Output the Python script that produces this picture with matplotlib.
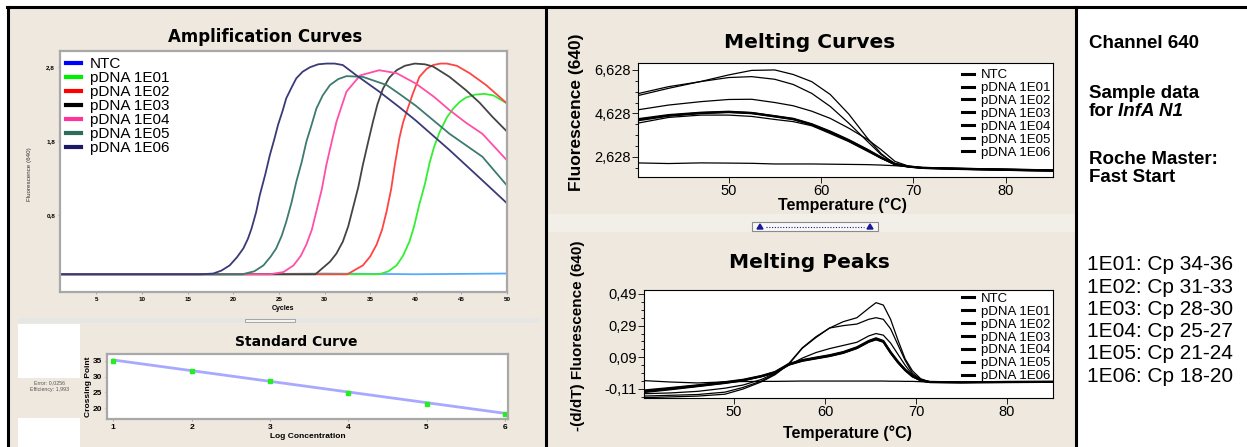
import matplotlib
matplotlib.use("Agg")
import matplotlib.pyplot as plt
from matplotlib.patches import Rectangle, Polygon
from matplotlib.lines import Line2D
from matplotlib.ticker import FixedLocator

plt.rcParams['font.family'] = ['Liberation Sans', 'DejaVu Sans']

W, H = 1247, 447
BEIGE = '#eee8df'

# ---------------- amplification curves (cycle, fluorescence) ----------------
amp_labels = ['NTC', 'pDNA 1E01', 'pDNA 1E02', 'pDNA 1E03', 'pDNA 1E04', 'pDNA 1E05', 'pDNA 1E06']
amp_legend_colors = ['#0000ff', '#00ee00', '#ff0000', '#000000', '#ff3399', '#2e6b5a', '#1a1a66']
amp_line_colors = ['#55aaff', '#33ee33', '#ff4444', '#444444', '#ff4fa8', '#3d7a70', '#3a3a78']

ntc_cyc = [1, 10, 20, 30, 40, 50]
ntc_flu = [0.0, 0.0, 0.0, 0.01, 0.0, 0.01]

e01_cyc = [1, 36, 37.0, 37.9, 38.6, 39.3, 39.8, 40.4, 41.0, 41.5, 42.0, 42.6, 43.4, 44.1, 44.8, 45.5, 46.5, 47.5, 48.5, 50]
e01_flu = [0, 0, 0.04, 0.12, 0.25, 0.44, 0.64, 0.95, 1.22, 1.5, 1.72, 1.92, 2.12, 2.24, 2.33, 2.39, 2.43, 2.44, 2.42, 2.31]

e02_cyc = [1, 32.5, 34.2, 35.0, 35.7, 36.3, 36.8, 37.3, 37.7, 38.2, 38.6, 39.0, 39.7, 40.4, 41.2, 41.9, 42.7, 43.4, 44.5, 45.9, 47.7, 50]
e02_flu = [0, 0, 0.12, 0.24, 0.4, 0.6, 0.85, 1.15, 1.48, 1.84, 2.05, 2.2, 2.45, 2.67, 2.78, 2.83, 2.85, 2.85, 2.82, 2.72, 2.56, 2.31]

e03_cyc = [1, 29, 30.6, 31.3, 32.0, 32.6, 33.1, 33.7, 34.2, 34.8, 35.3, 35.8, 36.4, 37.1, 37.9, 38.8, 39.9, 41.0, 41.9, 43.7, 45.5, 47, 48.4, 50]
e03_flu = [0, 0, 0.17, 0.28, 0.44, 0.65, 0.89, 1.18, 1.48, 1.8, 2.06, 2.3, 2.51, 2.66, 2.76, 2.82, 2.85, 2.84, 2.81, 2.67, 2.49, 2.32, 2.13, 1.93]

e04_cyc = [1, 24, 25.5, 26.6, 27.4, 28.0, 28.6, 29.1, 29.7, 30.2, 30.8, 31.3, 32.4, 33.9, 36.0, 37.9, 40, 42, 43.7, 45.5, 47.3, 50]
e04_flu = [0, 0, 0.03, 0.12, 0.25, 0.4, 0.6, 0.85, 1.15, 1.48, 1.8, 2.06, 2.47, 2.69, 2.76, 2.72, 2.58, 2.4, 2.22, 2.05, 1.9, 1.54]

e05_cyc = [1, 21, 22.3, 23.3, 24.1, 24.7, 25.3, 25.8, 26.4, 26.9, 27.5, 28.0, 28.6, 29.1, 29.8, 30.6, 31.5, 32.4, 34.2, 36.8, 38.2, 40, 43.7, 47.3, 50]
e05_flu = [0, 0, 0.04, 0.12, 0.24, 0.35, 0.52, 0.71, 0.98, 1.25, 1.52, 1.79, 2.03, 2.24, 2.42, 2.56, 2.64, 2.68, 2.67, 2.56, 2.44, 2.28, 1.9, 1.59, 1.2]

e06_cyc = [1, 16.5, 17.8, 18.7, 19.6, 20.4, 21.1, 21.6, 22.0, 22.5, 22.9, 23.5, 24.0, 24.5, 24.9, 25.4, 25.8,
           26.4, 26.9, 27.6, 28.4, 29.3, 30.2, 31.1, 32.0, 33.5, 36.0, 38.2, 40, 43.7, 47.3, 50]
e06_flu = [0, 0, 0.01, 0.05, 0.12, 0.23, 0.35, 0.48, 0.62, 0.84, 1.07, 1.35, 1.61, 1.83, 2.02, 2.21, 2.38,
           2.53, 2.65, 2.74, 2.8, 2.84, 2.85, 2.85, 2.83, 2.69, 2.47, 2.26, 2.08, 1.68, 1.27, 0.96]

amp_x = [ntc_cyc, e01_cyc, e02_cyc, e03_cyc, e04_cyc, e05_cyc, e06_cyc]
amp_y = [ntc_flu, e01_flu, e02_flu, e03_flu, e04_flu, e05_flu, e06_flu]
amp_yticks = [0.8, 1.8, 2.8]
amp_yticklabels = ['0,8', '1,8', '2,8']
amp_xticks = [5, 10, 15, 20, 25, 30, 35, 40, 45, 50]

# ---------------- standard curve ----------------
std_logconc = [1, 2, 3, 4, 5, 6]
std_cp = [35.0, 31.8, 28.6, 24.7, 21.5, 18.3]
std_cp_err = [0.6, 0.1, 0.1, 0.1, 0.1, 0.1]
std_fit_x = [1, 6]
std_fit_y = [35.3, 18.4]
std_info = ['Error: 0,0256', 'Efficiency: 1,993']

# ---------------- melting curves (temperature, fluorescence) ----------------
mc_temp = [40, 43.5, 47, 50, 52.5, 55, 57, 59, 61, 63, 65, 66.5, 68, 69.5, 71, 75, 80, 85]
mc_ntc = [2350, 2320, 2350, 2340, 2330, 2300, 2300, 2300, 2290, 2280, 2270, 2250, 2220, 2170, 2110, 2070, 2030, 2000]
mc_a = [5430, 5783, 6100, 6400, 6610, 6630, 6420, 6090, 5500, 4600, 3500, 2780, 2280, 2170, 2120, 2080, 2040, 2010]
mc_b = [5520, 5860, 6095, 6280, 6322, 6200, 5960, 5550, 4950, 4180, 3350, 2730, 2330, 2180, 2120, 2090, 2050, 2020]
mc_c = [4782, 5013, 5170, 5270, 5280, 5130, 4980, 4730, 4400, 3950, 3440, 2960, 2420, 2195, 2130, 2100, 2060, 2030]
mc_d = [4351, 4551, 4660, 4705, 4650, 4500, 4380, 4130, 3790, 3400, 2960, 2600, 2290, 2180, 2120, 2070, 2030, 1990]
mc_e = [4166, 4443, 4551, 4551, 4490, 4350, 4250, 4060, 3700, 3330, 2890, 2560, 2280, 2170, 2110, 2060, 2010, 1980]
mc_f = [4300, 4520, 4640, 4690, 4640, 4490, 4360, 4110, 3770, 3380, 2940, 2590, 2290, 2180, 2120, 2080, 2040, 2000]
mc_series = [mc_ntc, mc_a, mc_b, mc_c, mc_d, mc_e, mc_f]
mc_yticks = [2628, 4628, 6628]
mc_yticklabels = ['2,628', '4,628', '6,628']

# ---------------- melting peaks (temperature, -dF/dT) ----------------
mp_temp = [40, 43, 46, 49, 51, 53, 54.5, 56, 57.5, 59, 60.5, 62, 63.5, 64.8, 65.6, 66.4, 67.2, 68, 68.8, 69.6, 70.5, 71.5, 75, 80, 85]
mp_ntc = [-0.057, -0.066, -0.072, -0.065, -0.063, -0.062, -0.062, -0.061, -0.06, -0.06, -0.06, -0.06, -0.06, -0.06, -0.06, -0.06, -0.061, -0.061, -0.062, -0.062, -0.064, -0.068, -0.07, -0.065, -0.064]
mp_a = [-0.165, -0.16, -0.155, -0.143, -0.11, -0.065, -0.02, 0.045, 0.147, 0.215, 0.275, 0.315, 0.34, 0.40, 0.435, 0.42, 0.33, 0.2, 0.08, 0.005, -0.045, -0.066, -0.068, -0.066, -0.065]
mp_b = [-0.155, -0.15, -0.145, -0.13, -0.1, -0.06, -0.015, 0.05, 0.15, 0.22, 0.275, 0.29, 0.30, 0.33, 0.34, 0.33, 0.27, 0.17, 0.07, -0.01, -0.05, -0.066, -0.068, -0.066, -0.065]
mp_c = [-0.14, -0.135, -0.125, -0.105, -0.085, -0.05, -0.01, 0.04, 0.085, 0.12, 0.145, 0.165, 0.185, 0.225, 0.24, 0.23, 0.18, 0.11, 0.04, -0.02, -0.05, -0.066, -0.068, -0.066, -0.065]
mp_d = [-0.126, -0.108, -0.09, -0.07, -0.055, -0.03, -0.005, 0.045, 0.07, 0.085, 0.1, 0.12, 0.15, 0.19, 0.206, 0.19, 0.12, 0.06, 0.01, -0.03, -0.055, -0.066, -0.068, -0.066, -0.065]
mp_e = [-0.133, -0.115, -0.095, -0.075, -0.058, -0.032, -0.008, 0.04, 0.065, 0.08, 0.095, 0.115, 0.145, 0.185, 0.2, 0.185, 0.115, 0.055, 0.005, -0.033, -0.056, -0.066, -0.068, -0.066, -0.065]
mp_f = [-0.12, -0.104, -0.087, -0.067, -0.052, -0.028, -0.003, 0.047, 0.072, 0.088, 0.103, 0.123, 0.153, 0.193, 0.21, 0.193, 0.123, 0.063, 0.012, -0.028, -0.054, -0.066, -0.068, -0.066, -0.065]
mp_series = [mp_ntc, mp_a, mp_b, mp_c, mp_d, mp_e, mp_f]
mp_yticks = [-0.11, 0.09, 0.29, 0.49]
mp_yticklabels = ['-0,11', '0,09', '0,29', '0,49']

melt_labels = ['NTC', 'pDNA 1E01', 'pDNA 1E02', 'pDNA 1E03', 'pDNA 1E04', 'pDNA 1E05', 'pDNA 1E06']
melt_xticks = [50, 60, 70, 80]

# ---------------- side notes ----------------
notes_bold = ['Channel 640', 'Sample data', 'for', 'Roche Master:', 'Fast Start']
notes_cp = ['1E01: Cp 34-36', '1E02: Cp 31-33', '1E03: Cp 28-30',
            '1E04: Cp 25-27', '1E05: Cp 21-24', '1E06: Cp 18-20']

fig = plt.figure(figsize=(W / 100, H / 100), dpi=100)


def box(x0, y0, x1, y1):
    return [x0 / W, 1 - y1 / H, (x1 - x0) / W, (y1 - y0) / H]


# background / frame in pixel coordinates
bg = fig.add_axes([0, 0, 1, 1], zorder=0)
bg.set_xlim(0, W)
bg.set_ylim(H, 0)
bg.axis('off')
bg.add_patch(Rectangle((8, 7), 1068, 440, color=BEIGE, lw=0))
bg.add_patch(Rectangle((18, 318), 522, 5, color='#e6e6e6', lw=0))
bg.add_patch(Rectangle((245, 319), 50, 3, facecolor='#f4f4f4', edgecolor='#9a9a9a', lw=0.6))
bg.add_patch(Rectangle((18, 324), 62, 54, color='white', lw=0))
bg.add_patch(Rectangle((18, 418), 62, 29, color='white', lw=0))
bg.add_patch(Rectangle((548, 214), 527, 18, color='#f2eee8', lw=0))
bg.add_patch(Rectangle((752, 222), 126, 9, facecolor='#f8f8f8', edgecolor='#8a8a8a', lw=0.8))
bg.add_patch(Polygon([[757, 229], [760, 224], [763, 229]], color='#1a1a99'))
bg.add_patch(Polygon([[867, 229], [870, 224], [873, 229]], color='#1a1a99'))
bg.plot([766, 864], [227, 227], color='#1a1a99', lw=0.8, ls=(0, (1, 1.5)))
bg.plot([7, 1247], [7, 7], color='black', lw=2.2)
bg.plot([8, 8], [7, 447], color='black', lw=2.2)
bg.plot([546, 546], [7, 447], color='black', lw=2.2)
bg.plot([1076, 1076], [7, 447], color='black', lw=2.2)

# titles and axis labels
bg.text(265, 37, 'Amplification Curves', ha='center', va='center', fontsize=12,
        fontweight='bold', family='DejaVu Sans')
bg.text(296, 342, 'Standard Curve', ha='center', va='center', fontsize=10,
        fontweight='bold', family='DejaVu Sans')
bg.text(810, 42, 'Melting Curves', ha='center', va='center', fontsize=14.5,
        fontweight='bold', family='DejaVu Sans')
bg.text(809, 263, 'Melting Peaks', ha='center', va='center', fontsize=14.5,
        fontweight='bold', family='DejaVu Sans')
bg.text(29, 174, 'Fluorescence (640)', rotation=90, ha='center', va='center', fontsize=4.5, color='#333333')
bg.text(283, 308, 'Cycles', ha='center', va='center', fontsize=5, fontweight='bold')
bg.text(89, 387, 'Crossing Point', rotation=90, ha='center', va='center', fontsize=6, fontweight='bold')
bg.text(308, 437, 'Log Concentration', ha='center', va='center', fontsize=6, fontweight='bold')
bg.text(50, 383, std_info[0], ha='center', va='center', fontsize=3.8, color='#555555')
bg.text(50, 389, std_info[1], ha='center', va='center', fontsize=3.8, color='#555555')
bg.text(577, 112, 'Fluorescence (640)', rotation=90, ha='center', va='center', fontsize=12.5, fontweight='bold')
bg.text(578, 336, '-(d/dT) Fluorescence (640)', rotation=90, ha='center', va='center', fontsize=11, fontweight='bold')
bg.text(842, 205, 'Temperature (°C)', ha='center', va='center', fontsize=11.5, fontweight='bold')
bg.text(847, 433, 'Temperature (°C)', ha='center', va='center', fontsize=11.5, fontweight='bold')

# side notes
nx = 1089
bg.text(nx, 43, notes_bold[0], ha='left', va='center', fontsize=13.5, fontweight='bold')
bg.text(nx, 93, notes_bold[1], ha='left', va='center', fontsize=13.5, fontweight='bold')
bg.text(nx, 111, notes_bold[2], ha='left', va='center', fontsize=13.5, fontweight='bold')
bg.text(nx + 29, 111, 'InfA N1', ha='left', va='center', fontsize=13.5, fontweight='bold', style='italic')
bg.text(nx, 160, notes_bold[3], ha='left', va='center', fontsize=13.5, fontweight='bold')
bg.text(nx, 178, notes_bold[4], ha='left', va='center', fontsize=13.5, fontweight='bold')
for i, t in enumerate(notes_cp):
    bg.text(nx - 2, 265 + i * 22.2, t, ha='left', va='center', fontsize=15)

# ---- amplification axes ----
ax1 = fig.add_axes(box(60, 51, 507, 292), zorder=2)
for xs, ys, c in zip(amp_x, amp_y, amp_line_colors):
    ax1.plot(xs, ys, color=c, lw=1.3)
ax1.set_xlim(1, 50)
ax1.set_ylim(-0.24, 3.02)
ax1.set_yticks(amp_yticks)
ax1.set_yticklabels(amp_yticklabels)
ax1.set_xticks(amp_xticks)
ax1.tick_params(labelsize=4.5, length=1.5, width=0.5, color='#888888', pad=2)
for lab in ax1.get_xticklabels() + ax1.get_yticklabels():
    lab.set_fontweight('bold')
for sp in ax1.spines.values():
    sp.set_color('#a8a8a8')
    sp.set_linewidth(1.6)
handles = [Line2D([], [], color=c, lw=3) for c in amp_legend_colors]
ax1.legend(handles, amp_labels, loc='upper left', frameon=False, fontsize=11,
           handlelength=1.0, handletextpad=0.55, labelspacing=0.0, borderaxespad=0.3,
           borderpad=0.1)

# ---- standard curve axes ----
ax2 = fig.add_axes(box(107, 354, 508, 419), zorder=2)
ax2.plot(std_fit_x, std_fit_y, color='#a8a8ff', lw=2)
ax2.errorbar(std_logconc, std_cp, yerr=std_cp_err, fmt='s', color='#22ee22', ms=2.6, elinewidth=1, capsize=0)
ax2.set_xlim(0.92, 6.04)
ax2.set_ylim(16.6, 37.2)
ax2.set_xticks(std_logconc)
ax2.set_yticks([20, 25, 30, 35])
ax2.tick_params(labelsize=6, length=1.5, width=0.5, color='#888888', pad=2)
for lab in ax2.get_xticklabels() + ax2.get_yticklabels():
    lab.set_fontweight('bold')
for sp in ax2.spines.values():
    sp.set_color('#a8a8a8')
    sp.set_linewidth(1.6)

# ---- melting curves axes ----
ax3 = fig.add_axes(box(638, 63, 1053, 177), zorder=2)
for i, ys in enumerate(mc_series):
    ax3.plot(mc_temp, ys, color='black', lw=1.6 if i in (4, 6) else 0.9)
ax3.set_xlim(40.2, 85.1)
ax3.set_ylim(1700, 6950)
ax3.set_xticks(melt_xticks)
ax3.set_yticks(mc_yticks)
ax3.set_yticklabels(mc_yticklabels)
ax3.yaxis.set_minor_locator(FixedLocator([2128, 3128, 3628, 4128, 5128, 5628, 6128]))
ax3.tick_params(labelsize=10.5, length=4, width=0.6, pad=1)
ax3.tick_params(which='minor', length=2, width=0.6)
handles = [Line2D([], [], color='black', lw=2.2) for _ in melt_labels]
ax3.legend(handles, melt_labels, loc='upper right', frameon=False, fontsize=9.5,
           handlelength=0.9, handletextpad=0.5, labelspacing=0.05,
           bbox_to_anchor=(1.0, 0.97), borderaxespad=0.1, borderpad=0.1)

# ---- melting peaks axes ----
ax4 = fig.add_axes(box(644, 290, 1053, 398), zorder=2)
for i, ys in enumerate(mp_series):
    ax4.plot(mp_temp, ys, color='black', lw=1.6 if i in (4, 6) else 0.9)
ax4.set_xlim(40.1, 85.05)
ax4.set_ylim(-0.167, 0.515)
ax4.set_xticks(melt_xticks)
ax4.set_yticks(mp_yticks)
ax4.set_yticklabels(mp_yticklabels)
ax4.yaxis.set_minor_locator(FixedLocator([-0.16, -0.06, -0.01, 0.04, 0.14, 0.19, 0.24, 0.34, 0.39, 0.44]))
ax4.tick_params(labelsize=10.5, length=4, width=0.6, pad=1)
ax4.tick_params(which='minor', length=2, width=0.6)
handles = [Line2D([], [], color='black', lw=2.2) for _ in melt_labels]
ax4.legend(handles, melt_labels, loc='upper right', frameon=False, fontsize=9.5,
           handlelength=0.9, handletextpad=0.5, labelspacing=0.05,
           bbox_to_anchor=(1.0, 1.0), borderaxespad=0.1, borderpad=0.1)

fig.savefig('out.png', dpi=100, facecolor='white')
